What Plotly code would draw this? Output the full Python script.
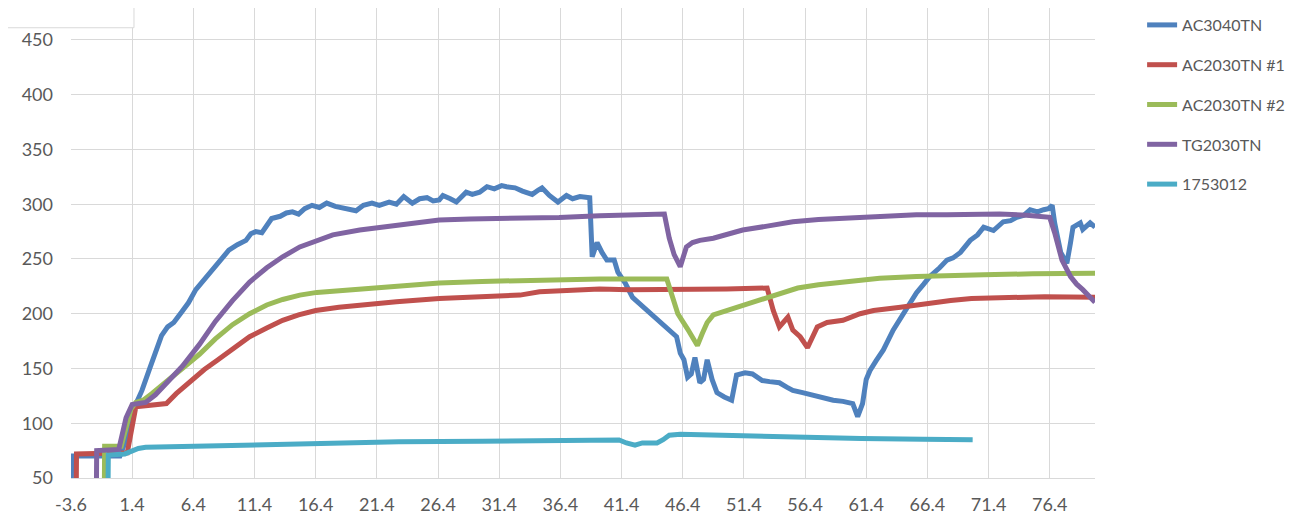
import plotly.graph_objects as go

# values
ac3040_x = [-3.6, -3.55, 0.4, 0.9, 1.4, 2.2, 2.8, 3.4, 3.8, 4.3, 4.8, 5.4, 6.0, 6.6, 7.2, 7.9, 8.5, 9.3, 10.0, 10.7,
            11.1, 11.5, 12.0, 12.8, 13.5, 14.0, 14.5, 15.0, 15.5, 16.1, 16.7, 17.3, 18.0, 18.5, 19.0, 19.7, 20.3, 21.0,
            21.6, 22.4, 23.0, 23.6, 24.3, 24.9, 25.5, 26.0, 26.5, 26.8, 27.4, 27.9, 28.7, 29.2, 29.8, 30.4, 31.0, 31.6,
            32.0, 32.7, 33.3, 34.1, 34.6, 34.9, 35.5, 36.2, 36.9, 37.4, 38.0, 38.8, 39.0, 39.4, 39.8, 40.2, 40.8, 41.1,
            41.7, 42.3, 42.8, 43.5, 44.2, 44.8, 45.4, 45.9, 46.2, 46.5, 46.8, 47.1, 47.4, 47.8, 48.1, 48.4, 48.8, 49.2,
            49.8, 50.4, 50.8, 51.5, 52.1, 52.9, 53.5, 54.3, 54.9, 55.4, 56.2, 57.0, 57.8, 58.7, 59.5, 60.3, 60.7, 61.1,
            61.4, 61.7, 62.2, 62.8, 63.6, 64.4, 65.0, 65.5, 66.1, 66.6, 67.4, 68.0, 68.5, 69.1, 69.9, 70.5, 71.0, 71.8,
            72.6, 73.2, 73.7, 74.3, 74.8, 75.4, 75.9, 76.3, 76.6, 76.8, 77.3, 77.8, 78.1, 78.3, 78.9, 79.1, 79.7, 80.1]
ac3040_y = [0, 70, 70, 85, 110, 130, 149, 167, 180, 188, 192, 201, 210, 222, 230, 240, 248, 258, 263, 267,
            273, 275, 274, 287, 289, 292, 293, 291, 296, 299, 297, 301, 298, 297, 296, 294, 299, 301,
            299, 302, 300, 307, 301, 305, 306, 303, 304, 308, 305, 302, 311, 309, 311, 316, 314, 317,
            316, 315, 312, 309, 313, 315, 308, 302, 308, 305, 307, 306, 252, 265, 256, 249, 249, 238,
            228, 215, 210, 203, 196, 190, 185, 179, 164, 158, 142, 145, 160, 137, 140, 158, 140, 128,
            124, 121, 144, 146, 145, 139, 138, 137, 133, 130, 128, 126, 123, 121, 120, 118, 106, 118,
            140, 148, 157, 167, 185, 200, 210, 219, 227, 234, 242, 249, 251, 256, 267, 272, 279, 276,
            284, 285, 288, 290, 295, 293, 295, 296, 299, 283, 256, 246, 265, 279, 283, 277, 283, 279]

ac2030_1_x = [-3.2, -3.15, 1.0, 1.4, 1.7, 2.5, 4.2, 5.0, 6.3, 7.3, 8.3, 9.6, 11.0, 12.4, 13.7, 15.0, 16.4, 18.3, 20.0,
              23.0, 26.5, 30.0, 33.1, 34.7, 37.0, 39.6, 42.0, 46.0, 50.0, 53.3, 53.8, 54.3, 55.0, 55.4, 56.0, 56.6,
              57.0, 57.4, 58.2, 59.5, 60.9, 62.0, 64.2, 66.0, 68.3, 70.0, 72.3, 76.0, 80.1]
ac2030_1_y = [0, 72, 73, 100, 115, 116, 118, 127, 140, 149, 157, 168, 179, 187, 194, 199, 203, 206, 208,
              211, 214, 215, 217, 220, 221, 222.5, 222, 222, 222.5, 223.5, 203, 188, 197, 185, 179, 169,
              178, 188, 192, 194, 200, 203, 206, 209, 212, 214, 215, 215.5, 215]

ac2030_2_x = [-0.9, -0.85, 0.5, 0.9, 1.3, 1.7, 2.3, 3.0, 4.2, 5.5, 6.9, 8.2, 9.6, 11.0, 12.4, 13.7, 15.1, 16.5, 18.3,
              20.0, 23.0, 26.5, 30.0, 34.7, 39.6, 45.1, 45.6, 46.0, 46.8, 47.6, 48.0, 48.4, 48.9, 50.3, 51.5, 53.0,
              54.5, 55.8, 57.5, 59.8, 62.5, 65.5, 68.0, 71.0, 75.0, 80.1]
ac2030_2_y = [0, 79, 79, 95, 113, 119, 121, 127, 138, 150, 163, 177, 190, 200, 208, 213, 217, 219.5, 221,
              223.5, 226, 228, 229.5, 231, 231.7, 231.7, 215, 200, 186, 171, 182, 192, 199, 204, 208, 214,
              219.5, 223.5, 226.5, 229, 232.5, 234, 235, 235.5, 236.5, 237]

tg2030_x = [-1.55, -1.5, 0.3, 0.9, 1.4, 2.5, 3.3, 4.2, 5.5, 6.9, 8.2, 9.6, 11.0, 12.4, 13.7, 15.1, 16.5, 17.8, 20.0,
            21.0, 23.5, 26.5, 29.0, 32.0, 36.3, 39.6, 42.0, 44.9, 45.3, 45.7, 46.2, 46.7, 47.2, 47.8, 48.9, 50.0,
            51.3, 53.3, 55.4, 57.5, 60.9, 63.0, 65.5, 68.0, 70.0, 72.3, 74.5, 76.4, 76.8, 77.4, 78.1, 78.6, 79.1, 80.1]
tg2030_y = [0, 75, 76, 105, 117, 119, 126, 136, 152, 172, 193, 212, 229, 242, 252, 261, 267, 272, 276.5,
            278, 282, 285.5, 286.5, 287, 288, 289.5, 290.5, 291, 269, 254, 243, 261, 265, 267, 269, 272,
            276.5, 280, 284, 286, 288, 289, 290.5, 290.5, 291, 291, 290, 288, 274, 249, 234, 227, 222, 210.5]

s1753012_x = [-0.6, -0.55, 0.8, 1.3, 1.9, 2.5, 6.4, 11.4, 16.4, 23.2, 30.0, 36.0, 41.2, 41.8, 42.5, 43.1, 44.3, 44.8,
              45.3, 46.2, 51.0, 56.0, 61.0, 66.0, 70.1]
s1753012_y = [0, 71, 72, 74, 77, 78, 79, 80.5, 82, 83, 83.5, 84, 84.7, 82, 80, 82, 82, 85,
              89, 90, 88.5, 87, 86, 85.5, 85]

names = ['AC3040TN', 'AC2030TN #1', 'AC2030TN #2', 'TG2030TN', '1753012']
colors = ['#4F81BD', '#C0504D', '#9BBB59', '#8064A2', '#4BACC6']
xs = [ac3040_x, ac2030_1_x, ac2030_2_x, tg2030_x, s1753012_x]
ys = [ac3040_y, ac2030_1_y, ac2030_2_y, tg2030_y, s1753012_y]

x_ticks = [-3.6 + 5 * k for k in range(17)]
x_labels = ['%.1f' % v for v in x_ticks]

fig = go.Figure()
for name, color, x, y in zip(names, colors, xs, ys):
    fig.add_trace(go.Scatter(x=x, y=y, mode='lines', name=name, legendgroup=name,
                             line=dict(color=color, width=5)))

# white box cut off at the top left of the original
fig.add_shape(type='rect', xref='paper', yref='paper', x0=-0.08, x1=0.0615, y0=0.958, y1=1.03,
              fillcolor='white', line=dict(color='#d9d9d9', width=1), layer='above')

# the page body adds an 8px margin, so the figure is 8px smaller than the window
font = 'Lato, Open Sans, sans-serif'
fig.update_layout(
    width=1294,
    height=507,
    margin=dict(l=63, r=207, t=0, b=37),
    plot_bgcolor='white',
    paper_bgcolor='white',
    font=dict(family=font, size=18, color='#595959'),
    showlegend=True,
    legend=dict(x=1.046, xanchor='left', y=1.0, yanchor='top', font=dict(size=16, color='#595959'),
                tracegroupgap=16, traceorder='grouped', bgcolor='rgba(0,0,0,0)'),
)
fig.update_xaxes(range=[-3.6, 80.1], tickmode='array', tickvals=x_ticks, ticktext=x_labels,
                 showgrid=True, gridcolor='#d9d9d9', gridwidth=1, zeroline=False, automargin=False,
                 showline=True, linecolor='#d9d9d9', ticklabelstandoff=10,
                 tickfont=dict(size=18, color='#595959'))
fig.update_yaxes(range=[50, 479.2], tick0=50, dtick=50, showgrid=True, gridcolor='#d9d9d9', gridwidth=1,
                 zeroline=False, showline=False, ticklabelstandoff=17, automargin=False,
                 tickfont=dict(size=18, color='#595959'))

fig.write_html("out.html")
